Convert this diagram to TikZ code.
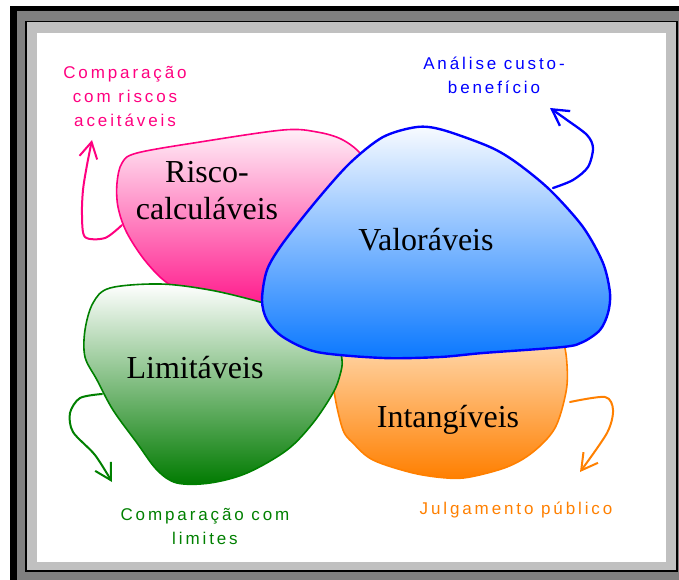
\documentclass[tikz,border=0pt]{standalone}
\usepackage{fontspec}
\setmainfont{Liberation Serif}
\newfontfamily\labelfont[LetterSpace=17]{Liberation Sans}
\usetikzlibrary{arrows.meta}

\definecolor{framedark}{HTML}{808080}
\definecolor{framelight}{HTML}{C0C0C0}
\definecolor{pinkline}{HTML}{FF0080}
\definecolor{pinktop}{HTML}{FFF0F8}
\definecolor{pinkbot}{HTML}{FF1A8C}
\definecolor{blueline}{HTML}{0000FF}
\definecolor{bluetop}{HTML}{F8FBFF}
\definecolor{bluebot}{HTML}{0A78FF}
\definecolor{greenline}{HTML}{008000}
\definecolor{greentop}{HTML}{FFFFFF}
\definecolor{greenbot}{HTML}{007A00}
\definecolor{orangeline}{HTML}{FF8000}
\definecolor{orangetop}{HTML}{FFE2C0}
\definecolor{orangebot}{HTML}{FF7F00}

\tikzset{
  blob/.style={line width=1.6pt, line join=round},
  bigtext/.style={font=\fontsize{32}{37}\selectfont, align=center, inner sep=0pt},
  smalltext/.style={font=\labelfont\fontsize{17}{24}\selectfont, align=center, inner sep=0pt},
  curlyarrow/.style={line width=2pt, line cap=round, line join=round,
    -{Straight Barb[length=16pt,width=18pt]}},
}

\begin{document}
\begin{tikzpicture}[x=1pt,y=-1pt]
\useasboundingbox (0,0) rectangle (679,580);

% window frame
\fill[white] (0,0) rectangle (679,580);
\fill[framedark] (10,6) rectangle (679,580);
\fill[black] (10,6) rectangle (679,11);
\fill[black] (10,6) rectangle (17,580);
\filldraw[fill=framelight, draw=black, line width=1.8pt] (26,21.5) rectangle (677,571);
\fill[white] (37,33) rectangle (666,562);

% pink blob
\draw[blob, draw=pinkline, top color=pinktop, bottom color=pinkbot]
  plot[smooth cycle, tension=0.55] coordinates {
    (117,183) (122,163) (137,153) (200,142) (283,130) (317,132) (343,140)
    (363,157) (372,185) (345,230) (300,290) (255,305) (210,298) (172,286)
    (147,263) (127,233) (118,207)};

% orange blob
\draw[blob, draw=orangeline, top color=orangetop, bottom color=orangebot]
  plot[smooth cycle, tension=0.55] coordinates {
    (345,332) (450,325) (550,328) (563,342) (567,365) (566,392) (555,428)
    (533,452) (507,467) (470,477) (447,478) (413,473) (373,460) (353,443)
    (343,430) (335,397) (333,370)};

% green blob
\draw[blob, draw=greenline, top color=greentop, bottom color=greenbot]
  plot[smooth cycle, tension=0.55] coordinates {
    (93,303) (110,288) (160,284) (210,290) (260,302) (300,315) (335,340)
    (342,360) (340,375) (333,393) (313,423) (287,450) (247,473) (210,483)
    (177,483) (157,470) (137,443) (113,410) (97,380) (85,357) (85,330)};

% blue blob
\draw[blob, line width=2.4pt, draw=blueline, top color=bluetop, bottom color=bluebot]
  plot[smooth cycle, tension=0.5] coordinates {
    (383,137) (417,127) (443,130) (490,147) (517,163) (550,190) (583,227)
    (603,263) (610,293) (608,313) (600,330) (583,342) (563,347) (483,353)
    (440,357) (383,358) (317,352) (283,337) (267,320) (262,300) (267,270)
    (283,243) (317,200) (350,163)};

% blob titles
\node[bigtext] (risco) at (207,190.5) {Risco-\\calculáveis};
\node[bigtext, anchor=base] (valor) at (426,250) {Valoráveis};
\node[bigtext, anchor=base] (limit) at (195,378) {Limitáveis};
\node[bigtext, anchor=base] (intang) at (448,427) {Intangíveis};

% outcome labels
\node[smalltext, text=pinkline] (riscolab) at (125,96.5) {Comparação\\com riscos\\aceitáveis};
\node[smalltext, text=blueline] (valorlab) at (494,75) {Análise custo-\\benefício};
\node[smalltext, text=greenline] (limitlab) at (205,526) {Comparação com\\limites};
\node[smalltext, text=orangeline, anchor=base] (intanglab) at (516,514) {Julgamento público};

% arrow ends
\coordinate (riscofoot) at (122,225);
\coordinate (riscotip) at (92,140);
\coordinate (valorfoot) at (553,188);
\coordinate (valortip) at (550,108);
\coordinate (limitfoot) at (102,394);
\coordinate (limittip) at (112,482);
\coordinate (intangfoot) at (570,402);
\coordinate (intangtip) at (580,472);

% curly arrows from each blob towards its label
\draw[curlyarrow, pinkline] plot[smooth, tension=0.5] coordinates {
  (riscofoot) (105,238) (85,237) (82,215) (83,190) (87,165) (riscotip)};
\draw[curlyarrow, blueline, line width=2.3pt] plot[smooth, tension=0.5] coordinates {
  (valorfoot) (573,180) (588,167) (593,148) (587,135) (567,120) (valortip)};
\draw[curlyarrow, greenline] plot[smooth, tension=0.5] coordinates {
  (limitfoot) (80,398) (70,413) (73,432) (95,455) (limittip)};
\draw[curlyarrow, orangeline] plot[smooth, tension=0.5] coordinates {
  (intangfoot) (605,397) (613,410) (607,433) (intangtip)};
\end{tikzpicture}
\end{document}
